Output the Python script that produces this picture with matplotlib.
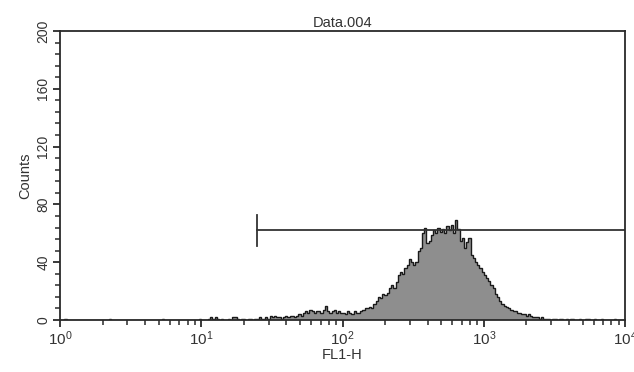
import matplotlib
matplotlib.use("Agg")
import matplotlib.pyplot as plt
import matplotlib.ticker as mticker
import numpy as np

plt.rcParams['font.family'] = ['Liberation Sans', 'DejaVu Sans']
plt.rcParams['mathtext.fontset'] = 'custom'
plt.rcParams['mathtext.rm'] = 'Liberation Sans'
plt.rcParams['mathtext.it'] = 'Liberation Sans'

# 256 log channels over 4 decades (FL1-H), counts
counts_low = [0, 0, 1, 0, 0, 0, 0, 0, 0, 0,
              0, 0, 0, 0, 0, 0, 0, 0, 0, 0,
              0, 0, 1, 0, 0, 0, 0, 0, 0, 0,
              0, 0, 0, 0, 0, 0, 0, 0, 0, 0,
              0, 0, 0, 0, 0, 0, 1, 0, 0, 0,
              0, 0, 0, 0, 0, 0, 0, 0, 0, 0,
              0, 0, 0, 1, 0, 0, 0, 1, 2, 1,
              2, 1, 0, 1, 0, 0, 1, 0, 2, 2,
              1, 0, 1, 1, 0, 1, 1, 0, 1, 1]
counts_rise = [2, 1, 1, 2, 1, 3, 2, 3, 2, 2,
               1, 2, 3, 2, 3, 3, 2, 3, 4, 3,
               5, 6, 5, 7, 6, 5, 6, 6, 5, 7,
               10, 6, 5, 6, 7, 5, 6, 5, 5, 4,
               6, 5, 4, 6, 5, 5, 6, 7, 8, 8,
               9, 8, 11, 13, 16, 15, 18, 17, 19, 22,
               24, 22, 26, 31, 33, 32, 36, 38, 42, 40,
               38, 40, 48, 50]
counts_peak = [60, 64, 53, 55, 59, 62, 60, 64, 61, 63,
               60, 65, 62, 66, 60, 69, 63, 55, 57, 50,
               54, 57, 45, 43, 40, 38, 36, 33, 31, 29,
               27, 24, 22, 18, 16, 13, 11, 10, 9, 8,
               7, 6, 6, 5, 5, 4, 4, 3, 4, 3,
               2, 2, 2, 1, 2]
counts_tail = [1, 1, 1, 0, 1, 1, 0, 1, 1, 0,
               1, 0, 1, 1, 0, 0, 1, 0, 0, 1,
               1, 0, 0, 1, 0, 0, 1, 0, 0, 0,
               0, 0, 1, 0, 0, 0, 0]
counts = np.array(counts_low + counts_rise + counts_peak + counts_tail, dtype=float)
n_ch = len(counts)
edges = 10 ** (4 * np.arange(n_ch + 1) / n_ch)

gate_lo = 25
gate_hi = 10000
gate_y = 62
gate_half = 11

fig = plt.figure(figsize=(6.34, 3.72), dpi=100)
ax = fig.add_axes([0.0946, 0.1398, 0.8914, 0.7769])

ink = '#2a2a2a'
ax.stairs(counts, edges, fill=True, color='#8e8e8e', baseline=0)
ax.stairs(counts, edges, color='#1a1a1a', lw=1.0, baseline=None)

# marker gate
ax.plot([gate_lo, gate_hi], [gate_y, gate_y], color='#333333', lw=1.3)
ax.plot([gate_lo, gate_lo], [gate_y - gate_half, gate_y + gate_half], color='#333333', lw=1.3)

ax.set_xscale('log')
ax.set_xlim(1, 10000)
ax.set_ylim(0, 200)
ax.xaxis.set_minor_locator(mticker.LogLocator(base=10, subs=np.arange(2, 10), numticks=10))
ax.xaxis.set_minor_formatter(mticker.NullFormatter())
ax.set_xticks([1, 10, 100, 1000, 10000])
ax.set_xticklabels([r'$10^0$', r'$10^1$', r'$10^2$', r'$10^3$', r'$10^4$'])
ax.set_yticks([0, 40, 80, 120, 160, 200])
ax.yaxis.set_minor_locator(mticker.MultipleLocator(8))
for lab in ax.get_yticklabels():
    lab.set_rotation(90)
    lab.set_va('center')

ax.tick_params(axis='both', which='major', direction='out', length=5, width=1.3,
               colors=ink, labelcolor='#333333')
ax.tick_params(axis='x', which='major', labelsize=11, pad=2)
ax.tick_params(axis='y', which='major', labelsize=10, pad=2)
ax.tick_params(axis='both', which='minor', direction='out', length=3.5, width=1.1, colors=ink)

for s in ax.spines.values():
    s.set_linewidth(1.3)
    s.set_color(ink)

ax.set_title('Data.004', fontsize=10.5, color='#333333', pad=3)
ax.set_xlabel('FL1-H', fontsize=10.5, color='#333333', labelpad=0)
ax.set_ylabel('Counts', fontsize=10.5, color='#333333', labelpad=3)

fig.savefig('out.png', dpi=100)
